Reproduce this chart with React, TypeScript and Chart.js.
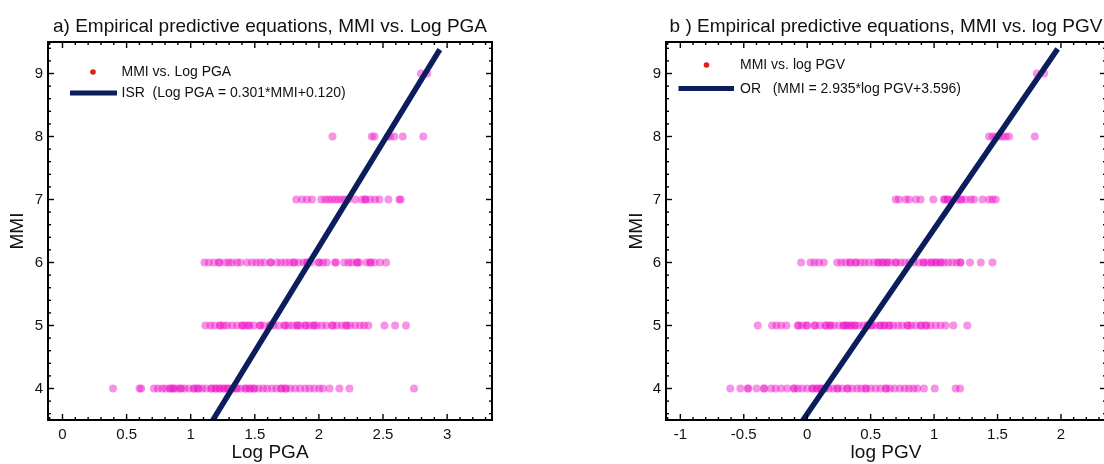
import { useEffect, useRef } from 'react';
import { Chart, registerables } from 'chart.js';

Chart.register(...registerables);

const FONT = '"Liberation Sans", Arial, Helvetica, sans-serif';
const NAVY = '#0b1d5c';
const PINK = 'rgba(238, 20, 200, 0.46)';
const RED = '#dd2211';

// ---------- tick labels ----------
const mmiTicks = [4, 5, 6, 7, 8, 9];
const pgaTicks = [0, 0.5, 1, 1.5, 2, 2.5, 3];
const pgvTicks = [-1, -0.5, 0, 0.5, 1, 1.5, 2];

// ---------- panel a: Log PGA values per MMI level ----------
const pga4 = [0.394, 0.601, 0.614, 0.713, 0.744, 0.778, 0.804, 0.837, 0.842, 0.863, 0.868, 0.895, 0.92, 0.925, 0.952, 0.985, 1.024, 1.029, 1.055, 1.06, 1.089, 1.12, 1.159, 1.164, 1.193, 1.198, 1.224, 1.229, 1.258, 1.262, 1.289, 1.294, 1.323, 1.328, 1.356, 1.361, 1.387, 1.426, 1.431, 1.46, 1.465, 1.491, 1.496, 1.53, 1.564, 1.595, 1.634, 1.668, 1.704, 1.709, 1.738, 1.743, 1.777, 1.815, 1.854, 1.893, 1.927, 1.963, 2.002, 2.031, 2.083, 2.16, 2.238, 2.742];
const pga5 = [1.115, 1.154, 1.185, 1.227, 1.232, 1.258, 1.284, 1.323, 1.361, 1.4, 1.405, 1.426, 1.452, 1.457, 1.491, 1.538, 1.543, 1.569, 1.616, 1.621, 1.647, 1.686, 1.732, 1.737, 1.764, 1.797, 1.828, 1.833, 1.854, 1.893, 1.898, 1.927, 1.958, 1.963, 1.984, 2.023, 2.057, 2.103, 2.108, 2.14, 2.179, 2.212, 2.217, 2.243, 2.282, 2.321, 2.352, 2.386, 2.511, 2.594, 2.679];
const pga6 = [1.107, 1.141, 1.18, 1.219, 1.224, 1.271, 1.297, 1.323, 1.361, 1.387, 1.439, 1.478, 1.512, 1.543, 1.574, 1.621, 1.626, 1.673, 1.704, 1.738, 1.771, 1.802, 1.807, 1.841, 1.88, 1.906, 1.911, 1.937, 1.997, 2.002, 2.031, 2.062, 2.127, 2.132, 2.197, 2.231, 2.256, 2.295, 2.3, 2.316, 2.373, 2.399, 2.404, 2.433, 2.477, 2.524];
const pga7 = [1.823, 1.868, 1.907, 1.946, 2.018, 2.049, 2.075, 2.101, 2.127, 2.153, 2.179, 2.205, 2.23, 2.283, 2.335, 2.36, 2.365, 2.399, 2.438, 2.472, 2.542, 2.627, 2.638];
const pga8 = [2.106, 2.412, 2.433, 2.537, 2.555, 2.588, 2.654, 2.814];
const pga9 = [2.796, 2.845];

// ISR line: Log PGA = 0.301*MMI + 0.120 (end points)
const isrX = [1.113, 2.943];
const isrY = [3.3, 9.38];

// ---------- panel b: log PGV values per MMI level ----------
const pgv4 = [-0.606, -0.527, -0.469, -0.464, -0.4, -0.342, -0.337, -0.285, -0.25, -0.206, -0.158, -0.106, -0.101, -0.074, -0.04, 0.0, 0.039, 0.044, 0.073, 0.078, 0.105, 0.11, 0.136, 0.141, 0.171, 0.205, 0.236, 0.241, 0.276, 0.315, 0.32, 0.355, 0.394, 0.426, 0.46, 0.465, 0.499, 0.539, 0.578, 0.618, 0.623, 0.652, 0.689, 0.731, 0.768, 0.802, 0.836, 0.868, 0.92, 1.005, 1.17, 1.205];
const pgv5 = [-0.39, -0.277, -0.242, -0.206, -0.164, -0.074, -0.069, -0.04, -0.006, -0.001, 0.057, 0.062, 0.1, 0.144, 0.149, 0.178, 0.183, 0.21, 0.25, 0.284, 0.289, 0.31, 0.315, 0.342, 0.347, 0.373, 0.378, 0.407, 0.442, 0.473, 0.478, 0.505, 0.51, 0.539, 0.573, 0.578, 0.605, 0.61, 0.644, 0.649, 0.678, 0.715, 0.749, 0.789, 0.794, 0.82, 0.855, 0.894, 0.899, 0.934, 0.939, 0.973, 1.012, 1.052, 1.091, 1.152, 1.262];
const pgv6 = [-0.048, 0.026, 0.057, 0.092, 0.131, 0.236, 0.268, 0.302, 0.336, 0.341, 0.381, 0.386, 0.421, 0.452, 0.486, 0.526, 0.557, 0.562, 0.592, 0.597, 0.626, 0.631, 0.657, 0.697, 0.702, 0.736, 0.768, 0.802, 0.841, 0.881, 0.915, 0.92, 0.947, 0.978, 0.983, 1.012, 1.017, 1.047, 1.052, 1.078, 1.11, 1.144, 1.178, 1.205, 1.21, 1.283, 1.368, 1.46];
const pgv7 = [0.697, 0.723, 0.776, 0.802, 0.855, 0.894, 0.994, 1.078, 1.083, 1.105, 1.11, 1.144, 1.183, 1.21, 1.215, 1.249, 1.289, 1.315, 1.381, 1.433, 1.46, 1.486];
const pgv8 = [1.433, 1.46, 1.486, 1.512, 1.539, 1.565, 1.591, 1.794];
const pgv9 = [1.81, 1.867];

// OR line: MMI = 2.935*log PGV + 3.596 (end points)
const orX = [-0.101, 1.974];
const orY = [3.3, 9.39];

const mmiLevels = [4, 5, 6, 7, 8, 9];

function toPoints(levels: number[], rows: number[][]) {
  const pts: { x: number; y: number }[] = [];
  rows.forEach((row, i) => row.forEach((v) => pts.push({ x: v, y: levels[i] })));
  return pts;
}

interface Panel {
  title: string;
  xTitle: string;
  xMin: number;
  xMax: number;
  xTicks: number[];
  points: { x: number; y: number }[];
  line: { x: number; y: number }[];
  yAxisWidth: number;
  padRight: number;
  yTitlePad: number;
  legendDot: [number, number];
  legendDotText: string;
  legendLine: [number, number, number];
  legendLineText: string;
  legendTextX: number;
}

function overlay(p: Panel) {
  return {
    id: 'overlay',
    afterDatasetsDraw(chart: any) {
      const { ctx, chartArea: a, scales } = chart;
      const xs = scales.x;
      const ys = scales.y;
      ctx.save();
      ctx.strokeStyle = '#000';
      ctx.lineWidth = 1.4;
      const seg = (x1: number, y1: number, x2: number, y2: number) => {
        ctx.beginPath();
        ctx.moveTo(x1, y1);
        ctx.lineTo(x2, y2);
        ctx.stroke();
      };
      // x ticks (major 0.5, minor 0.1), inward, bottom and top
      for (let k = Math.ceil(p.xMin * 10); k <= Math.floor(p.xMax * 10); k++) {
        const len = k % 5 === 0 ? 6 : 3;
        const px = xs.getPixelForValue(k / 10);
        seg(px, a.bottom, px, a.bottom - len);
        seg(px, a.top, px, a.top + len);
      }
      // y ticks (major 1, minor 0.2), inward, left and right
      for (let k = Math.ceil(3.5 * 5); k <= Math.floor(9.5 * 5); k++) {
        const len = k % 5 === 0 ? 6 : 3;
        const py = ys.getPixelForValue(k / 5);
        seg(a.left, py, a.left + len, py);
        seg(a.right, py, a.right - len, py);
      }
      ctx.lineWidth = 2;
      ctx.strokeRect(a.left, a.top, a.right - a.left, a.bottom - a.top);

      // legend
      ctx.fillStyle = RED;
      ctx.beginPath();
      ctx.arc(p.legendDot[0], p.legendDot[1], 2.8, 0, Math.PI * 2);
      ctx.fill();
      ctx.strokeStyle = NAVY;
      ctx.lineWidth = 5;
      seg(p.legendLine[0], p.legendLine[2], p.legendLine[1], p.legendLine[2]);
      ctx.fillStyle = '#111';
      ctx.font = `14px ${FONT}`;
      ctx.textAlign = 'left';
      ctx.textBaseline = 'middle';
      ctx.fillText(p.legendDotText, p.legendTextX, p.legendDot[1] + 0.5);
      ctx.fillText(p.legendLineText, p.legendTextX, p.legendLine[2] + 0.5);

      // panel title
      ctx.font = `19px ${FONT}`;
      ctx.textAlign = 'center';
      ctx.textBaseline = 'alphabetic';
      ctx.fillText(p.title, (a.left + a.right) / 2, 31.5);
      ctx.restore();
    },
  };
}

function makeConfig(p: Panel): any {
  return {
    type: 'scatter',
    data: {
      datasets: [
        {
          type: 'line',
          data: p.line,
          borderColor: NAVY,
          borderWidth: 5.5,
          borderCapStyle: 'butt',
          pointRadius: 0,
          fill: false,
          tension: 0,
          clip: 0,
          order: 0,
        },
        {
          type: 'scatter',
          data: p.points,
          pointBackgroundColor: PINK,
          backgroundColor: PINK,
          pointBorderColor: 'rgba(0,0,0,0)',
          pointBorderWidth: 0,
          pointRadius: 4,
          radius: 4,
          order: 1,
        },
      ],
    },
    options: {
      animation: false,
      responsive: false,
      devicePixelRatio: 1,
      events: [],
      layout: { padding: { left: 0, top: 42, right: p.padRight, bottom: 0 } },
      elements: { point: { radius: 4, borderWidth: 0 } },
      plugins: {
        legend: { display: false },
        tooltip: { enabled: false },
        title: { display: false },
      },
      scales: {
        x: {
          type: 'linear',
          min: p.xMin,
          max: p.xMax,
          grid: { display: false, drawTicks: false },
          border: { display: false },
          ticks: {
            color: '#111',
            font: { family: FONT, size: 15 },
            padding: 6,
            autoSkip: false,
            maxRotation: 0,
            callback: (v: number) => String(v),
          },
          afterBuildTicks: (s: any) => {
            s.ticks = p.xTicks.map((v) => ({ value: v }));
          },
          afterFit: (s: any) => {
            s.height = 44;
          },
          title: {
            display: true,
            text: p.xTitle,
            color: '#111',
            font: { family: FONT, size: 19 },
            padding: { top: 0, bottom: 0 },
          },
        },
        y: {
          type: 'linear',
          min: 3.5,
          max: 9.5,
          grid: { display: false, drawTicks: false },
          border: { display: false },
          ticks: {
            color: '#111',
            font: { family: FONT, size: 15 },
            padding: 5,
            callback: (v: number) => String(v),
          },
          afterBuildTicks: (s: any) => {
            s.ticks = mmiTicks.map((v) => ({ value: v }));
          },
          afterFit: (s: any) => {
            s.width = p.yAxisWidth;
          },
          title: {
            display: true,
            text: 'MMI',
            color: '#111',
            font: { family: FONT, size: 19 },
            padding: { top: p.yTitlePad, bottom: 0 },
          },
        },
      },
    },
    plugins: [overlay(p)],
  };
}

const panelA: Panel = {
  title: 'a) Empirical predictive equations, MMI vs. Log PGA',
  xTitle: 'Log PGA',
  xMin: -0.113,
  xMax: 3.35,
  xTicks: pgaTicks,
  points: toPoints(mmiLevels, [pga4, pga5, pga6, pga7, pga8, pga9]),
  line: isrX.map((x, i) => ({ x, y: isrY[i] })),
  yAxisWidth: 48,
  padRight: 60,
  yTitlePad: 6,
  legendDot: [93, 72],
  legendDotText: 'MMI vs. Log PGA',
  legendLine: [70, 117, 93],
  legendLineText: 'ISR  (Log PGA = 0.301*MMI+0.120)',
  legendTextX: 121.5,
};

const panelB: Panel = {
  title: 'b ) Empirical predictive equations, MMI vs. log PGV',
  xTitle: 'log PGV',
  xMin: -1.113,
  xMax: 2.355,
  xTicks: pgvTicks,
  points: toPoints(mmiLevels, [pgv4, pgv5, pgv6, pgv7, pgv8, pgv9]),
  line: orX.map((x, i) => ({ x, y: orY[i] })),
  yAxisWidth: 114,
  padRight: 6,
  yTitlePad: 73,
  legendDot: [154.5, 65],
  legendDotText: 'MMI vs. log PGV',
  legendLine: [126.5, 182, 88.5],
  legendLineText: 'OR   (MMI = 2.935*log PGV+3.596)',
  legendTextX: 188,
};

function ChartCanvas({ panel, left, width }: { panel: Panel; left: number; width: number }) {
  const ref = useRef<HTMLCanvasElement | null>(null);
  useEffect(() => {
    if (!ref.current) return;
    const chart = new Chart(ref.current, makeConfig(panel));
    return () => chart.destroy();
  }, [panel]);
  return (
    <canvas
      ref={ref}
      width={width}
      height={464}
      style={{ position: 'absolute', left, top: 0, width, height: 464, display: 'block' }}
    />
  );
}

export default function App() {
  return (
    <div
      style={{
        position: 'fixed',
        left: 0,
        top: 0,
        width: 1104,
        height: 464,
        overflow: 'hidden',
        background: '#fff',
      }}
    >
      <ChartCanvas panel={panelA} left={0} width={552} />
      <ChartCanvas panel={panelB} left={552} width={560} />
    </div>
  );
}
